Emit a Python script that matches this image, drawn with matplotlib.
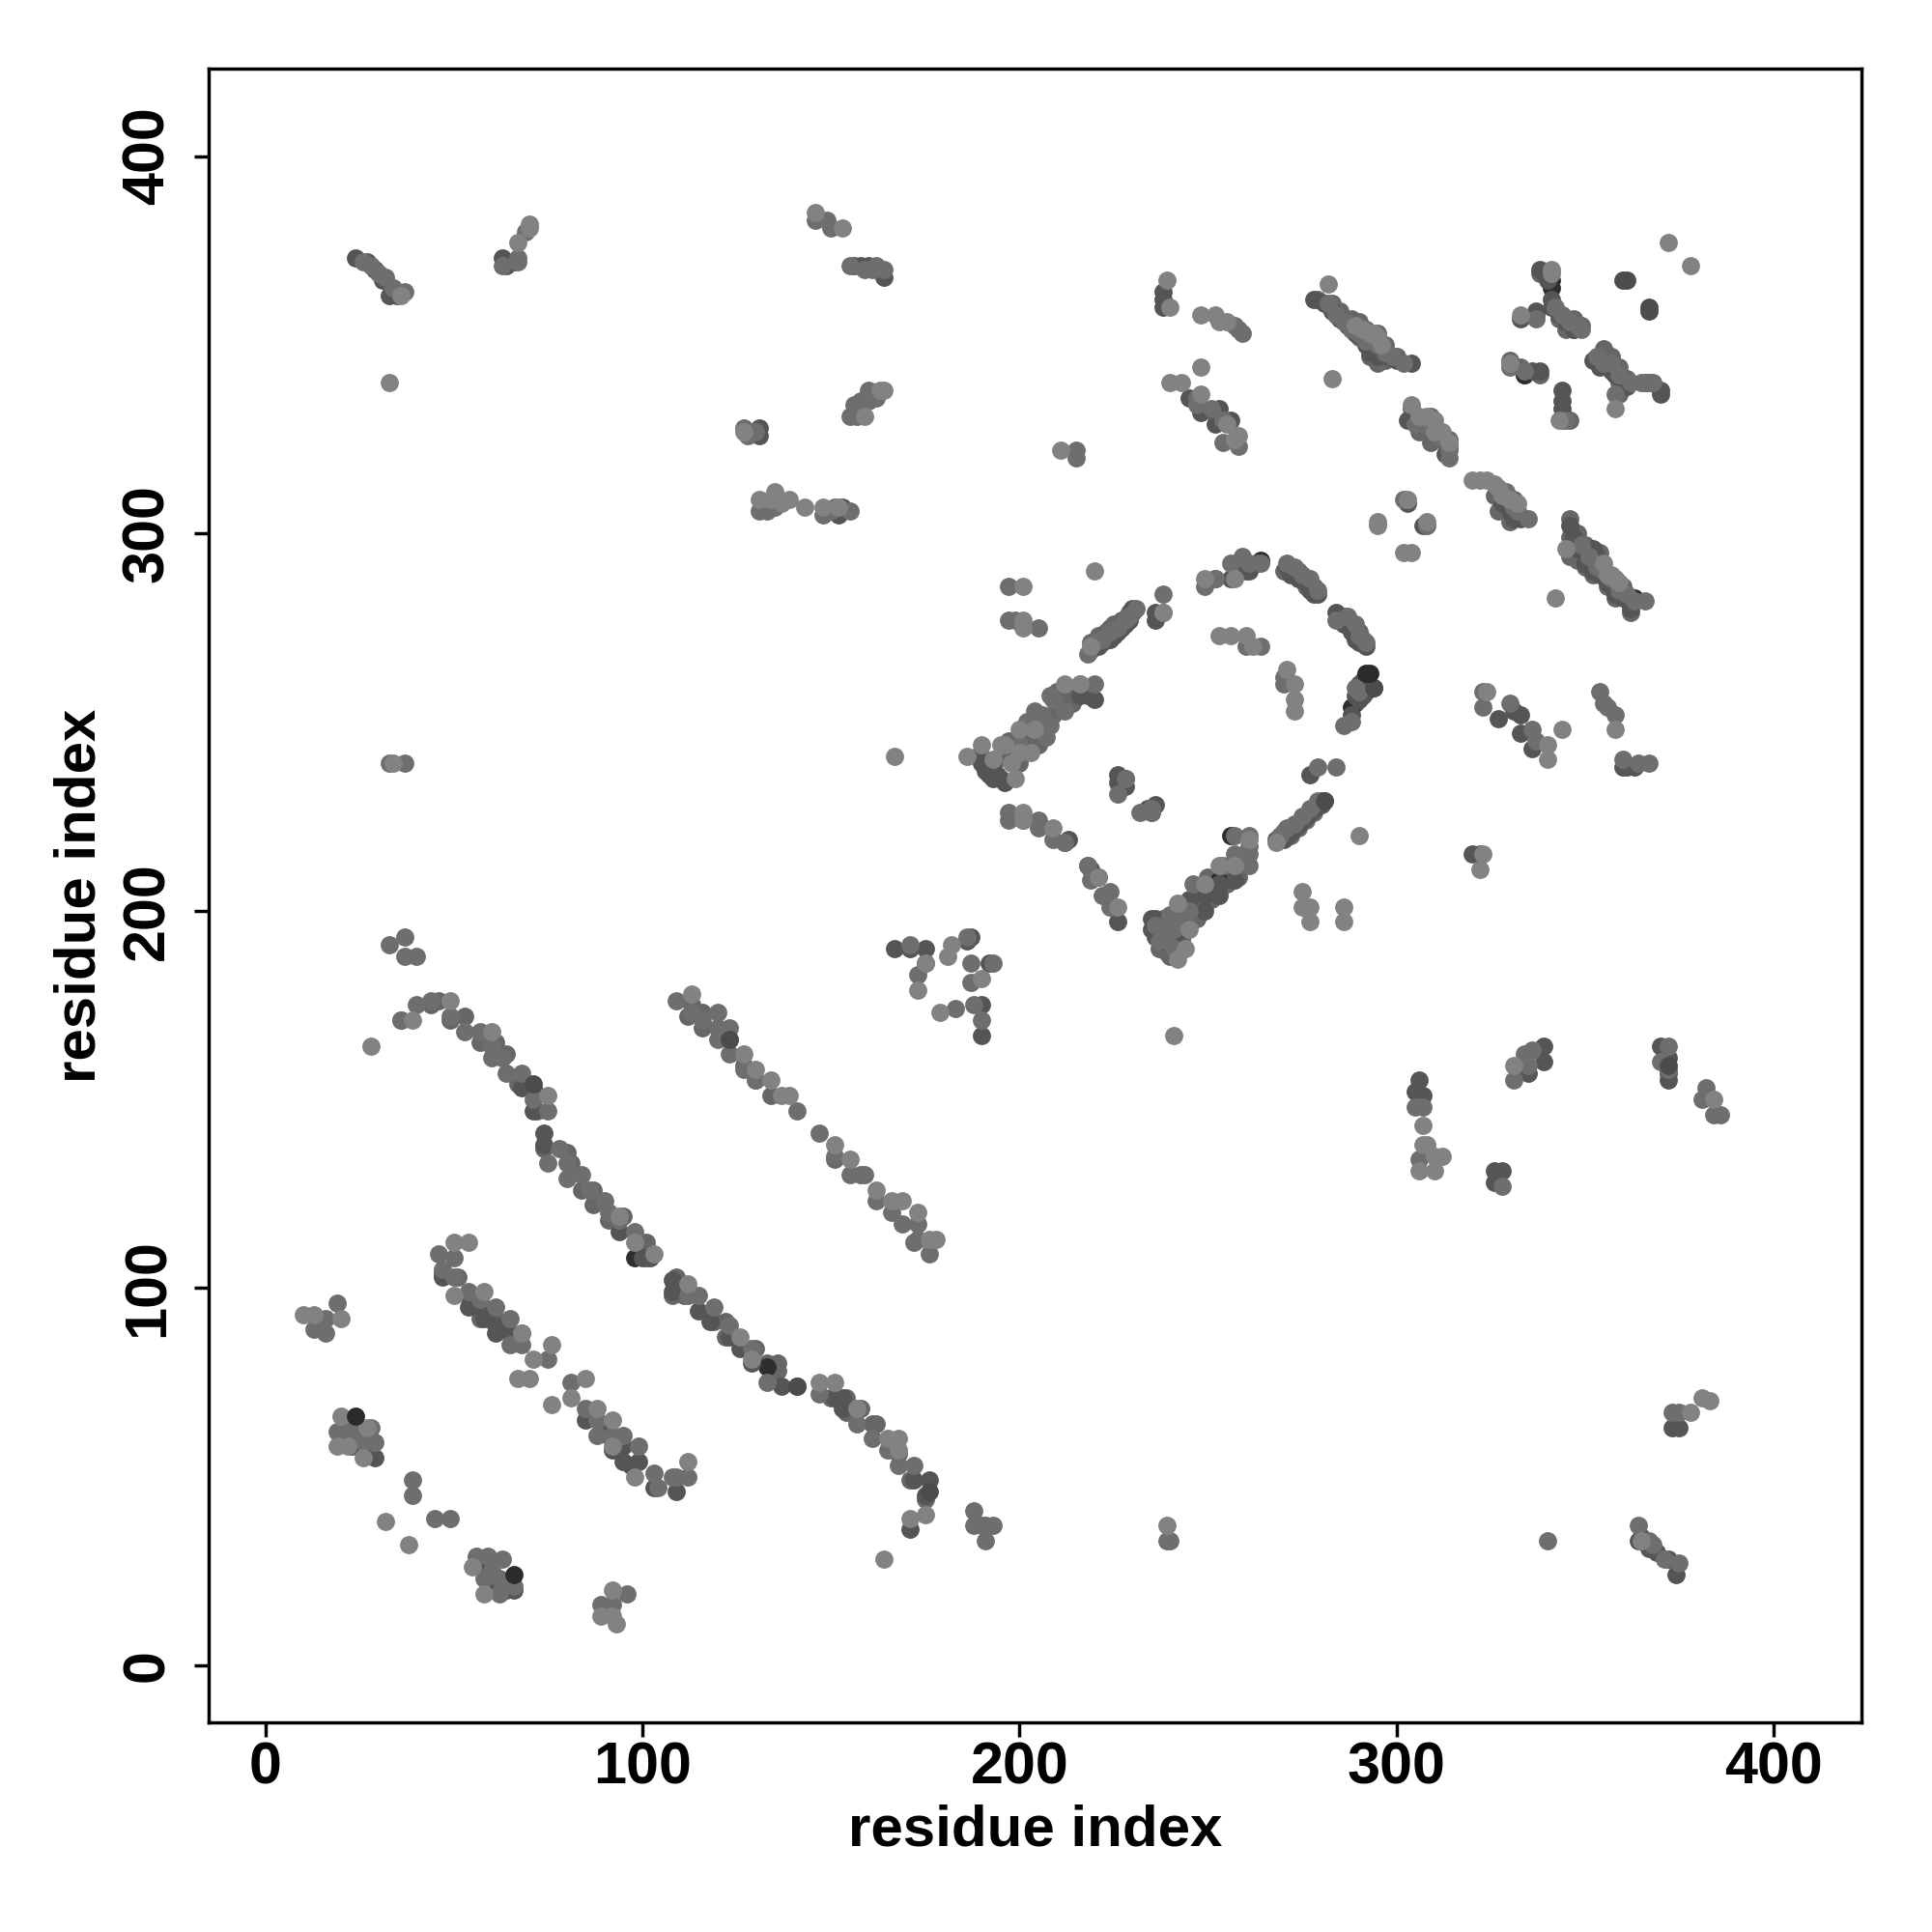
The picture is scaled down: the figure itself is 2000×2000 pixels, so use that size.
import matplotlib
matplotlib.use("Agg")
import matplotlib.pyplot as plt
import numpy as np

plt.rcParams['font.family'] = ['Liberation Sans', 'DejaVu Sans']

# contacts, grouped by how dark the dot is
contacts_under = [
    (230,279),(264,293),(279,228),(256,220),(341,365),(334,342),(363,283),(228,235),(253,208),
    (341,367),(350,292),(359,286),(288,254),(241,192),(237,194),(133,79),(98,108),
]
contacts_black = [(24,66),(66,24),(293,263),(292,263)]
contacts_dark = [
    (24,373),(27,372),(29,370),(31,367),(33,363),(35,363),(63,373),(64,371),(66,372),
    (152,305),(153,307),(156,371),(158,371),(160,371),(164,368),(131,326),(131,328),
    (238,364),(238,362),(238,360),(245,336),(248,332),(252,332),(253,333),(252,329),(256,330),
    (278,362),(281,361),(283,359),(285,357),(287,355),(289,353),(291,352),(292,350),(294,352),
    (293,348),(295,347),(296,349),(298,347),(300,346),(304,345),
    (303,330),(306,329),(313,321),(331,304),(333,304),(328,308),(330,306),
    (303,308),(307,302),
    (347,299),(348,296),(350,296),(350,292),(352,293),(352,290),(354,292),(354,289),(356,287),(358,286),
    (358,284),(360,283),(362,281),(362,280),(346,302),(352,296),(353,294),
    (333,357),(337,359),(338,370),(340,367),(341,362),(341,360),(343,358),(345,356),(347,354),
    (344,338),(344,335),(344,333),(336,343),(338,343),
    (352,346),(354,344),(356,344),(358,342),(360,340),(361,339),(366,340),(370,337),(370,338),
    (219,269),(220,270),(221,270),(222,271),(223,272),(224,272),(225,273),(226,274),(227,275),
    (228,276),(229,277),(230,280),(236,277),(236,279),
    (252,288),(256,288),(260,290),(263,292),(261,290),
    (271,291),(272,289),(274,288),(276,287),(277,285),(278,284),(279,284),
    (284,279),(285,277),(286,276),(288,274),(289,272),(290,271),(292,270),
    (290,260),(290,256),(289,257),(288,252),(292,258),(294,259),
    (268,219),(270,219),(271,220),(272,221),(273,222),(274,223),(275,224),(276,225),(277,226),(278,227),(280,228),
    (277,236),(220,256),(216,257),(212,218),(213,219),(218,212),(219,211),(221,209),(226,197),
    (226,236),(226,234),(228,233),(234,227),(235,226),(236,228),
    (189,241),(190,239),(191,237),(192,236),(193,235),(194,236),(195,235),(196,234),(193,238),(191,240),
    (235,198),(235,195),(236,198),(237,196),(236,193),(238,192),(239,194),(241,190),(240,193),(242,194),
    (249,200),(253,204),(253,207),(257,208),(249,204),(245,203),
    (20,62),(22,60),(24,61),(26,57),(29,55),(23,58),(58,25),(60,24),(62,22),(64,20),(61,20),(66,20),
    (47,104),(47,103),(54,95),(57,95),(54,98),(58,92),(61,88),(65,88),(61,90),(91,61),(89,64),(85,65),
    (92,57),(95,54),(97,53),(99,54),(95,58),(103,47),(109,46),
    (74,141),(74,138),(71,147),(71,153),(68,153),(94,115),(100,108),(102,108),(108,102),(108,99),
    (115,94),(118,91),(123,87),(126,84),(129,80),(137,74),(141,74),(151,71),(153,71),(153,68),
    (172,49),(176,49),(175,45),(171,36),(167,190),(171,190),(175,190),(175,186),(187,193),(186,192),
    (192,186),(190,175),(190,167),(306,155),(305,152),(307,151),(326,131),(328,131),(326,128),
    (339,164),(339,160),(335,157),(370,164),(372,161),(372,157),(372,155),(373,63),(375,63),
    (364,33),(365,34),(367,31),(369,30),(372,28),(374,24),(320,215),(322,215),
    (327,251),(331,253),(333,252),(333,247),(336,243),(360,238),(361,238),(363,238),
]
# second pass over the dense bands, these make them as wide as in the reference
contacts_band = [
    (36,171),(44,175),(46,176),(49,171),(53,172),(57,165),(61,165),(64,162),(67,154),(72,147),
    (74,137),(80,136),(81,133),(84,126),(87,126),(87,122),(91,118),(95,119),(101,112),(101,108),
    (109,103),(108,98),(111,98),(119,91),(122,91),(122,87),(130,84),(136,80),(136,78),(133,80),
    (150,71),(154,71),(154,67),(158,68),(162,64),(161,64),(168,56),(171,49),(175,44),(191,37),
    (113,175),(112,172),(116,173),(116,169),(123,166),(127,159),(130,155),(134,151),(151,134),(158,130),
    (51,103),(57,92),(61,92),(68,88),
    (279,362),(283,361),(283,359),(285,359),(285,357),(288,357),(288,354),(290,356),(290,352),(292,354),
    (292,351),(295,353),(295,349),(293,347),(297,350),(297,346),(295,345),(300,347),
    (304,333),(306,327),(309,331),(309,324),(312,325),(314,325),(314,323),
    (326,310),(331,309),(327,306),(331,305),(330,303),(328,309),
    (346,304),(346,299),(348,300),(350,297),(354,295),(354,291),(346,294),(348,293),(350,291),(352,289),
    (355,289),(356,289),(358,288),(356,286),(360,286),(358,283),(362,283),(362,279),
    (340,369),(338,369),(337,358),(343,357),(344,358),(345,354),(347,357),(347,354),(349,355),
    (355,349),(354,346),(357,347),(357,343),(359,344),(359,340),(361,341),(359,337),(367,340),
    (330,346),(333,344),(334,342),(338,342),(346,330),(344,330),
    (197,240),(199,241),(201,246),(203,246),(205,249),(206,250),(204,244),(207,249),(210,254),(211,257),
    (209,252),(213,257),(214,255),(216,259),(218,257),(198,243),(200,239),(197,245),(202,245),(205,244),
    (206,247),(208,251),(210,258),
    (243,197),(244,200),(247,201),(247,204),(251,203),(251,207),(255,210),(255,207),(259,213),(258,209),
    (243,193),(238,198),(239,189),(237,190),(240,188),(243,192),(247,198),(248,202),(250,209),
    (219,271),(221,273),(223,274),(225,276),(227,277),(229,279),(226,276),(224,275),
    (270,290),(272,291),(274,290),(276,286),(278,286),(286,278),(288,276),(290,274),(291,272),
    (270,221),(272,220),(274,222),(276,224),(278,226),(280,229),(289,255),(291,261),(291,257),
]
contacts_mid = [
    (26,372),(28,371),(30,369),(32,368),(34,365),(37,364),(63,371),(67,372),(67,373),(69,380),
    (146,383),(149,383),(150,381),(155,371),(159,370),(161,370),(162,371),(164,370),
    (128,326),(130,327),(127,328),(131,306),(133,306),(135,307),(148,305),(150,306),(151,307),(155,306),
    (155,331),(157,331),(156,334),(158,335),(160,335),(160,338),(162,336),
    (247,336),(247,334),(251,333),(254,330),(257,355),(258,354),(259,353),(254,324),(258,323),
    (282,361),(284,358),(286,356),(288,354),(290,353),(292,351),(295,350),(297,348),(299,347),(302,345),
    (305,329),(307,329),(309,328),(311,326),(313,325),(314,322),(314,320),(329,311),(331,307),(332,306),(335,304),
    (302,309),(308,302),(349,297),(351,294),(353,291),(355,290),(357,288),(359,285),(361,284),(363,282),(366,282),
    (337,357),(342,360),(344,358),(346,356),(348,355),(349,354),(330,344),(334,343),(345,330),
    (353,347),(355,345),(357,345),(359,342),(362,340),(358,337),(365,340),(367,340),(368,340),
    (218,268),(220,271),(222,272),(224,274),(226,275),(228,277),(229,278),(231,280),(238,284),(238,279),
    (249,286),(252,288),(256,292),(259,294),(261,292),(264,292),(271,292),(273,291),(275,289),(277,288),(279,285),
    (284,277),(287,278),(289,276),(290,273),(292,271),(260,270),(264,270),(270,262),(270,260),
    (197,277),(199,277),(205,275),(197,286),(289,259),(290,258),(288,250),(286,249),
    (269,220),(271,222),(273,223),(275,225),(277,227),(279,229),(281,229),(279,238),(284,238),
    (208,257),(204,253),(206,252),(212,253),(216,260),(220,260),(209,256),(202,250),(200,244),(207,246),(208,249),
    (197,224),(197,226),(201,224),(205,224),(205,222),(209,219),(212,218),(218,212),(219,208),(224,205),(222,204),(224,201),
    (226,231),(228,235),(235,227),(235,226),(232,226),
    (257,220),(261,220),(261,217),(261,215),(261,212),(257,215),(254,212),(249,207),(246,207),(245,200),(242,199),
    (240,199),(236,196),(238,195),(240,195),(241,195),(241,190),(237,192),(239,192),
    (19,62),(22,63),(24,62),(28,63),(29,59),(26,59),(39,49),(39,45),(45,39),(49,39),
    (56,29),(59,29),(63,28),(58,23),(62,23),(60,25),(62,19),(66,21),(96,19),(89,16),(92,16),
    (13,89),(16,88),(19,96),(16,92),
    (46,109),(50,108),(50,103),(47,105),(54,99),(57,97),(61,95),(65,92),(68,85),(65,85),(75,81),
    (81,75),(85,68),(88,65),(88,61),(92,61),(95,61),(99,58),(103,51),(104,47),(108,50),(109,50),(112,50),
    (36,171),(40,175),(44,176),(49,172),(53,168),(57,168),(60,164),(63,161),(60,161),(64,157),(68,157),(71,150),
    (75,147),(75,133),(78,137),(80,133),(80,129),(84,130),(86,126),(90,123),(91,120),(94,118),(98,115),
    (112,98),(115,98),(119,95),(123,90),(129,84),(133,75),(147,72),(157,64),(161,60),(165,57),(168,53),(172,53),
    (188,41),(188,37),(191,33),(190,37),(193,37),(239,33),(240,33),(340,33),
    (109,176),(113,173),(116,171),(120,173),(120,169),(123,169),(120,166),(123,162),(127,158),(130,155),(141,147),(147,141),
    (151,135),(155,130),(159,130),(162,123),(166,120),(169,117),(173,117),(173,113),(176,109),(172,112),
    (33,191),(37,193),(37,188),(40,188),(33,239),(37,239),(215,320),(215,322),
    (171,191),(173,183),(186,193),(187,186),(187,181),(193,186),(188,175),(190,171),(183,174),
    (305,148),(307,148),(306,134),(331,155),(335,159),(336,163),(334,162),(328,127),(372,164),(370,160),(372,158),
    (373,67),(375,67),(382,153),(384,146),(386,146),(381,150),(364,37),(367,33),(368,32),(371,28),(375,27),
    (323,258),(323,254),(330,255),(336,248),(337,245),(354,258),(355,255),(356,254),(358,252),(360,240),(364,239),(367,239),
]
contacts_light = [
    (36,363),(70,381),(70,382),(67,377),(33,340),(146,385),(153,381),(131,309),(135,311),(134,309),(136,309),(137,308),
    (139,309),(143,307),(148,307),(152,307),(159,331),(163,338),(164,338),(127,327),
    (239,367),(240,360),(248,358),(252,358),(253,356),(255,356),(248,344),(240,340),(243,340),(248,337),(255,329),
    (257,325),(258,326),(283,341),(282,366),(291,354),(293,353),(294,353),(295,352),(289,355),(296,350),
    (304,334),(306,331),(308,331),(310,330),(310,327),(312,327),(314,324),(320,314),(322,314),(324,314),(326,313),
    (327,312),(328,310),(330,309),(332,308),(295,302),(295,303),(303,309),(308,303),(302,295),(304,295),
    (345,296),(342,283),(355,292),(357,289),(359,287),(356,289),(358,288),
    (333,358),(341,370),(330,345),(343,330),(358,333),(372,377),(378,371),(341,369),
    (219,270),(220,290),(201,286),(201,277),(201,275),(249,288),(253,273),(256,273),(260,273),(262,270),
    (273,260),(273,256),(273,253),(271,264),(238,279),(257,288),
    (186,241),(190,244),(195,244),(196,244),(193,240),(198,239),(199,235),(200,248),(200,242),(203,242),(204,248),
    (212,260),(216,260),(201,226),(201,224),(209,222),(221,209),(226,201),(275,205),(275,201),(277,201),(277,197),
    (286,201),(286,197),(290,220),(268,218),(261,219),(257,212),(253,212),(249,207),(242,202),(245,195),(244,190),(242,187),
    (10,93),(13,93),(20,92),(20,66),(19,58),(22,58),(26,55),(27,63),(32,38),(38,32),(55,26),(58,19),(92,20),(89,13),(93,11),(92,13),
    (54,112),(50,112),(50,98),(58,99),(68,88),(71,81),(76,85),(67,76),(70,76),(76,69),(81,71),(85,76),(98,50),(112,54),
    (28,164),(39,171),(49,176),(60,168),(75,151),(88,68),(92,65),(92,58),(94,119),(98,112),(103,109),(112,101),(126,87),
    (129,81),(147,75),(151,75),(157,68),(165,60),(168,60),(168,57),(175,40),(171,39),(164,28),(239,37),
    (113,178),(127,162),(130,158),(134,155),(137,151),(139,151),(151,138),(155,134),(162,126),(166,123),(169,123),(173,120),(176,113),(178,113),
    (167,241),(241,167),(34,239),(211,322),(173,179),(175,186),(181,188),(182,191),(190,182),(179,173),
    (307,143),(307,138),(308,138),(310,135),(312,135),(306,131),(310,131),(331,159),(384,150),(378,67),(381,71),(383,70),
    (323,215),(322,211),(324,258),(340,244),(340,240),(344,248),(358,248),(365,33),
]
contacts_top = [(281,229),(294,259),(372,159),(361,367),(360,367),(367,360),(367,359),(176,46),(71,154),(141,74),(123,166)]

tick_vals = [0, 100, 200, 300, 400]

fig = plt.figure(figsize=(10, 10), dpi=200)
ax = fig.add_axes([0.1078, 0.1085, 0.8557, 0.856])

# darkest first, lighter dots sit on top like in the original
groups = [(contacts_band, '#666666'), (contacts_under, '#2e2e2e'), (contacts_dark, '#555555'),
          (contacts_mid, '#6e6e6e'), (contacts_light, '#828282'),
          (contacts_top, '#4c4c4c'), (contacts_black, '#2b2b2b')]
for pts, col in groups:
    arr = np.array(pts)
    ax.scatter(arr[:, 0], arr[:, 1], s=46, color=col, linewidths=0)

ax.set_xlim(-15.1, 423.3)
ax.set_ylim(-15.15, 423.2)
ax.set_xticks(tick_vals)
ax.set_yticks(tick_vals)
ax.tick_params(length=5.5, width=1.25, labelsize=22)
ax.tick_params(axis='x', pad=1.5)
ax.tick_params(axis='y', pad=6.5)
for lab in ax.get_xticklabels():
    lab.set_fontweight('bold')
for lab in ax.get_yticklabels():
    lab.set_fontweight('bold')
    lab.set_rotation(90)
    lab.set_va('center')
for sp in ax.spines.values():
    sp.set_linewidth(1.25)

ax.set_xlabel("residue index", fontsize=21.6, fontweight='bold')
ax.set_ylabel("residue index", fontsize=21.6, fontweight='bold')
ax.xaxis.set_label_coords(0.5, -0.0495)
ax.yaxis.set_label_coords(-0.0615, 0.5)

plt.savefig("out.png", dpi=200)
